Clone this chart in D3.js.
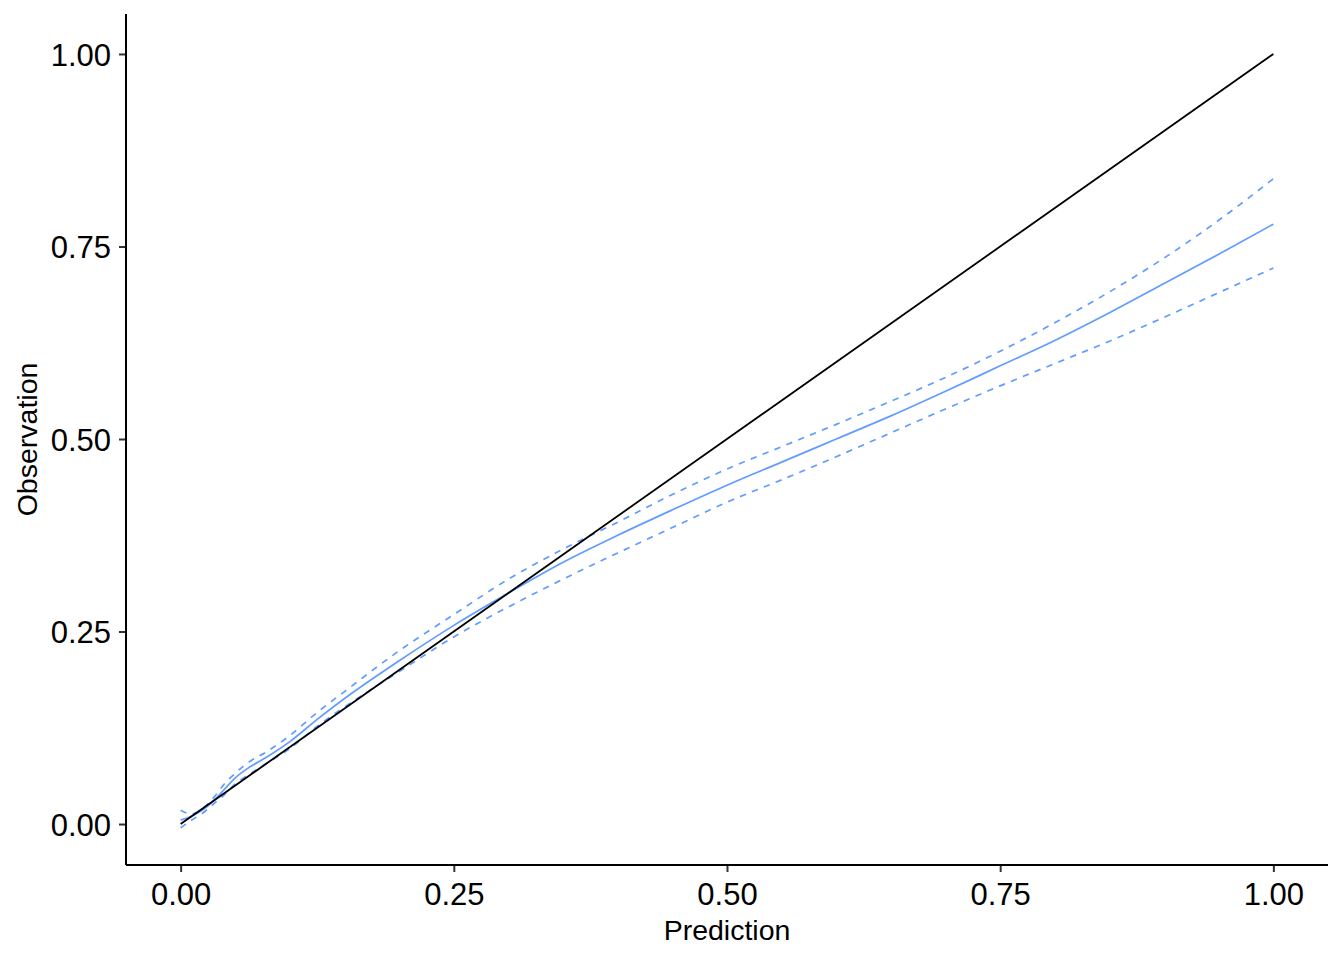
<!DOCTYPE html>
<html>
<head>
<meta charset="utf-8">
<script src="https://cdn.jsdelivr.net/npm/d3@7/dist/d3.min.js"></script>
<style>
  html, body { margin: 0; padding: 0; background: #ffffff; }
  svg { display: block; }
  text { font-family: "Liberation Sans", Arial, sans-serif; }
</style>
</head>
<body>
<svg id="chart" width="1344" height="960"></svg>
<script>
// ---- data ----
const prediction = [0, 0.01, 0.02, 0.03, 0.04, 0.05, 0.06, 0.08, 0.10, 0.125, 0.15, 0.20, 0.25, 0.30, 0.35, 0.40, 0.45, 0.50, 0.55, 0.60, 0.65, 0.70, 0.75, 0.80, 0.85, 0.90, 0.95, 1.00];
const observed = [0.005, 0.010, 0.018, 0.030, 0.045, 0.060, 0.071, 0.088, 0.107, 0.136, 0.163, 0.212, 0.258, 0.300, 0.340, 0.375, 0.408, 0.440, 0.470, 0.500, 0.530, 0.562, 0.595, 0.628, 0.664, 0.702, 0.740, 0.779];
const upperCI = [0.018, 0.013, 0.020, 0.034, 0.052, 0.066, 0.078, 0.095, 0.115, 0.145, 0.172, 0.225, 0.272, 0.318, 0.357, 0.392, 0.428, 0.461, 0.490, 0.519, 0.549, 0.580, 0.614, 0.651, 0.691, 0.735, 0.784, 0.838];
const lowerCI = [-0.005, 0.005, 0.014, 0.026, 0.038, 0.052, 0.062, 0.080, 0.098, 0.127, 0.152, 0.198, 0.243, 0.282, 0.318, 0.352, 0.385, 0.418, 0.447, 0.477, 0.508, 0.539, 0.569, 0.598, 0.627, 0.658, 0.690, 0.722];
const idealX = [0, 1];
const idealY = [0, 1];
const xTicks = [0, 0.25, 0.5, 0.75, 1];
const yTicks = [0, 0.25, 0.5, 0.75, 1];
const xTitle = "Prediction";
const yTitle = "Observation";

(function () {
  // ---- layout ----
  const svg = d3.select("#chart");
  const mLeft = 126, mRight = 1328, mTop = 14, mBottom = 865;
  const blue = "#619CFF";

  const x = d3.scaleLinear().domain([-0.05, 1.05]).range([mLeft, mRight]);
  const y = d3.scaleLinear().domain([-0.0532, 1.0519]).range([mBottom, mTop]);

  const g = svg.append("g");

  function series(ys) { return prediction.map((p, i) => [p, ys[i]]); }
  const line = d3.line().x(d => x(d[0])).y(d => y(d[1])).curve(d3.curveMonotoneX);

  [upperCI, lowerCI].forEach(arr => {
    g.append("path").datum(series(arr))
      .attr("fill", "none").attr("stroke", blue)
      .attr("stroke-width", 1.7).attr("stroke-dasharray", "6.4,6.4")
      .attr("d", line);
  });
  g.append("path").datum(series(observed))
    .attr("fill", "none").attr("stroke", blue).attr("stroke-width", 1.7)
    .attr("d", line);

  g.append("path").datum(idealX.map((v, i) => [v, idealY[i]]))
    .attr("fill", "none").attr("stroke", "#000").attr("stroke-width", 1.8)
    .attr("d", d3.line().x(d => x(d[0])).y(d => y(d[1])));

  // ---- axes ----
  const xAxis = d3.axisBottom(x).tickValues(xTicks).tickFormat(d3.format(".2f")).tickSize(7).tickPadding(6);
  const yAxis = d3.axisLeft(y).tickValues(yTicks).tickFormat(d3.format(".2f")).tickSize(7).tickPadding(6);

  const gx = svg.append("g").attr("transform", `translate(0,${mBottom})`).call(xAxis);
  const gy = svg.append("g").attr("transform", `translate(${mLeft},0)`).call(yAxis);

  [gx, gy].forEach(a => {
    a.select(".domain").remove();
    a.selectAll(".tick line").attr("stroke", "#333333").attr("stroke-width", 2);
    a.selectAll(".tick text").attr("fill", "#000").style("font-size", "31px")
      .style("font-family", "'Liberation Sans', Arial, sans-serif");
  });
  gx.selectAll(".tick text").attr("dy", null).attr("y", 40);
  gy.selectAll(".tick text").attr("dy", "0.36em").attr("x", -15);

  // axis lines
  svg.append("line").attr("x1", mLeft).attr("x2", mRight).attr("y1", mBottom).attr("y2", mBottom)
    .attr("stroke", "#000").attr("stroke-width", 2);
  svg.append("line").attr("x1", mLeft).attr("x2", mLeft).attr("y1", mTop).attr("y2", mBottom)
    .attr("stroke", "#000").attr("stroke-width", 2);

  // titles
  svg.append("text").attr("x", (mLeft + mRight) / 2).attr("y", 940)
    .attr("text-anchor", "middle").style("font-size", "28.5px").attr("fill", "#000")
    .text(xTitle);
  svg.append("text").attr("transform", `translate(37,${(mTop + mBottom) / 2}) rotate(-90)`)
    .attr("text-anchor", "middle").style("font-size", "28.5px").attr("fill", "#000")
    .text(yTitle);
})();
</script>
</body>
</html>
